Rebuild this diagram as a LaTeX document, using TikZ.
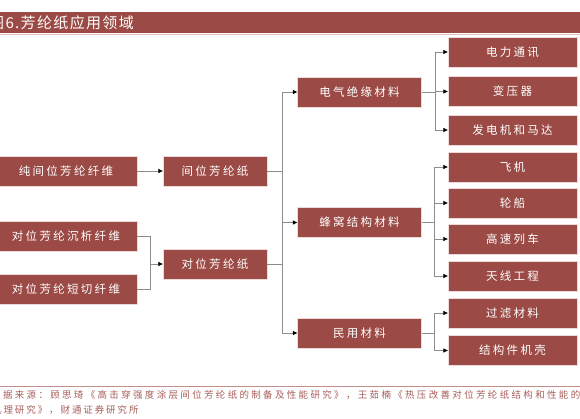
\documentclass[tikz,border=0pt]{standalone}
\usepackage{fontspec}
\newfontfamily\cjk{Noto Sans CJK SC}
\newfontfamily\cjkbox[LetterSpace=20]{Noto Sans CJK SC}
\newfontfamily\cjkfoot[LetterSpace=24.5]{Noto Sans CJK SC}
\newfontfamily\cjkfootb[LetterSpace=20]{Noto Sans CJK SC}
\newfontfamily\cjktitle[LetterSpace=9]{Noto Sans CJK SC}
\usetikzlibrary{arrows.meta}
\definecolor{boxred}{HTML}{9B4A45}
\definecolor{linegray}{HTML}{8C8C8C}
\definecolor{srcred}{HTML}{A65E59}
\begin{document}
\begin{tikzpicture}[x=1pt,y=-1pt,
  box/.style={fill=boxred, draw=white!80!boxred, line width=0.4pt, text=white,
    inner sep=0pt, minimum height=30pt, font=\cjkbox\fontsize{11.5}{11.5}\selectfont},
  rbox/.style={box, minimum width=129pt},
  mbox/.style={box, minimum width=124pt},
  pbox/.style={box, minimum width=104pt},
  lbox/.style={box, minimum width=142pt},
  conn/.style={draw=linegray, line width=0.7pt},
  arr/.style={conn, -{Triangle[length=4.5pt,width=4pt,color=black]}}
]
\useasboundingbox (0,0) rectangle (580,418);

% title bar
\fill[boxred] (0,12) rectangle (580,33);
\draw[boxred!35, line width=0.6pt] (0,34) -- (580,34);
\node[anchor=west, text=white, inner sep=0pt, font=\cjktitle\fontsize{15}{15}\selectfont] (title) at (-11,22.5) {图6.芳纶纸应用领域};

% right column
\node[rbox] (r1) at (512.5,52) {电力通讯};
\node[rbox] (r2) at (512.5,91.5) {变压器};
\node[rbox] (r3) at (512.5,130) {发电机和马达};
\node[rbox] (r4) at (512.5,167) {飞机};
\node[rbox] (r5) at (512.5,203) {轮船};
\node[rbox] (r6) at (512.5,239) {高速列车};
\node[rbox] (r7) at (512.5,276) {天线工程};
\node[rbox] (r8) at (512.5,313) {过滤材料};
\node[rbox] (r9) at (512.5,350.5) {结构件机壳};

% middle column
\node[mbox] (m1) at (359.5,92) {电气绝缘材料};
\node[mbox] (m2) at (359.5,222.5) {蜂窝结构材料};
\node[mbox] (m3) at (359.5,333) {民用材料};

% paper column
\node[pbox] (p1) at (215,171) {间位芳纶纸};
\node[pbox] (p2) at (215,264) {对位芳纶纸};

% fibre column
\node[lbox] (l1) at (66,171) {纯间位芳纶纤维};
\node[lbox] (l2) at (66,236) {对位芳纶沉析纤维};
\node[lbox] (l3) at (66,289) {对位芳纶短切纤维};

% fibres -> papers
\draw[arr] (l1.east) -- (p1.west);
\coordinate (j1) at (150,264);
\draw[conn] (l2.east) -| (j1);
\draw[conn] (l3.east) -| (j1);
\draw[arr] (j1) -- (p2.west);

% papers -> trunk
\coordinate (tA) at (282,92);
\coordinate (tB) at (282,333);
\draw[conn] (p1.east) -- (p1.east -| tA);
\draw[conn] (p2.east) -- (p2.east -| tA);
\draw[conn] (tA) -- (tB);
\draw[arr] (tA) -- (m1.west);
\draw[arr] (tA |- m2.west) -- (m2.west);
\draw[arr] (tB) -- (m3.west);

% branches
\coordinate (b1) at (435,92);
\coordinate (b2) at (434,222.5);
\coordinate (b3) at (434,333);
\draw[conn] (m1.east) -- (b1);
\draw[conn] (r1.west -| b1) -- (r3.west -| b1);
\foreach \r in {r1,r2,r3} \draw[arr] (\r.west -| b1) -- (\r.west);
\draw[conn] (m2.east) -- (b2);
\draw[conn] (r4.west -| b2) -- (r7.west -| b2);
\foreach \r in {r4,r5,r6,r7} \draw[arr] (\r.west -| b2) -- (\r.west);
\draw[conn] (m3.east) -- (b3);
\draw[conn] (r8.west -| b3) -- (r9.west -| b3);
\foreach \r in {r8,r9} \draw[arr] (\r.west -| b3) -- (\r.west);

% source
\draw[srcred!70, line width=0.6pt] (0,386) -- (580,386);
\node[anchor=west, text=srcred, inner sep=0pt, font=\cjkfoot\fontsize{9.5}{9.5}\selectfont] (src1) at (-9,395) {数据来源：顾思琦《高击穿强度涂层间位芳纶纸的制备及性能研究》，王茹楠《热压改善对位芳纶纸结构和性能的};
\node[anchor=west, text=srcred, inner sep=0pt, font=\cjkfootb\fontsize{9.5}{9.5}\selectfont] (src2) at (-8,410) {机理研究》，财通证券研究所};
\end{tikzpicture}
\end{document}
